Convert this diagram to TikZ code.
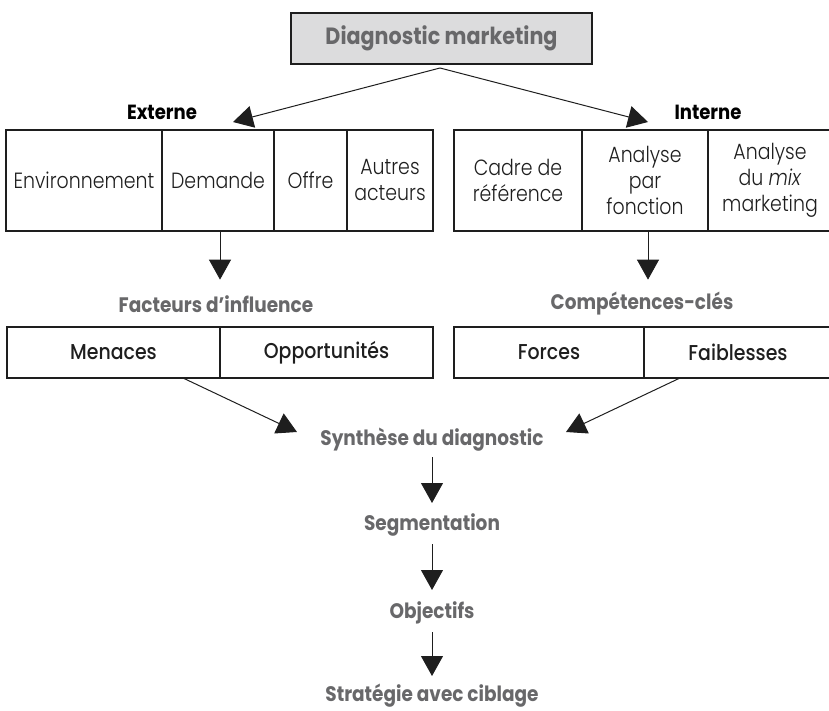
\documentclass[tikz,border=0pt]{standalone}
\usepackage{fontspec}
\setmainfont{Poppins}[FakeStretch=0.88]
\newfontfamily\lightfont{Poppins Light}[FakeStretch=0.86]
\newfontfamily\medfont{Poppins Medium}[FakeStretch=0.88]
\usetikzlibrary{arrows.meta}
\definecolor{labelgray}{RGB}{104,104,106}
\definecolor{boxgray}{RGB}{220,220,221}
\definecolor{ink}{RGB}{30,30,30}
\begin{document}
\begin{tikzpicture}[x=1pt,y=-1pt,
  cell/.style={draw=ink, line width=1.3pt, inner sep=0pt, align=center,
    font=\lightfont\fontsize{22}{26}\selectfont, text=ink},
  upper/.style={cell, minimum height=101pt},
  lower/.style={cell, minimum height=51pt, font=\medfont\fontsize{21.5}{24}\selectfont},
  side/.style={font=\bfseries\fontsize{20.5}{22}\selectfont, text=black, inner sep=0pt},
  stage/.style={font=\bfseries\fontsize{21}{24}\selectfont, text=labelgray, inner sep=0pt},
  arr/.style={draw=ink, line width=1pt, -{Triangle[length=20pt,width=22pt]}}
]
\useasboundingbox (0,0) rectangle (829,711);

% title box
\node[draw=ink, line width=1.3pt, fill=boxgray, minimum width=301pt, minimum height=51pt,
  font=\bfseries\fontsize{23.5}{28}\selectfont, text=labelgray] (top) at (441.5,38.5) {Diagnostic marketing};

% side headings
\node[side] (ext) at (162,112) {Externe};
\node[side] (int) at (708,112) {Interne};

% external analysis cells
\node[upper, minimum width=156pt] (env) at (84,180.5) {Environnement};
\node[upper, minimum width=112pt] (dem) at (218,180.5) {Demande};
\node[upper, minimum width=73pt] (off) at (310.5,180.5) {Offre};
\node[upper, minimum width=86pt] (aut) at (390,180.5) {Autres\\acteurs};

% internal analysis cells (right border runs off the page edge)
\node[upper, minimum width=128pt] (cad) at (518,180.5) {Cadre de\\référence};
\node[upper, minimum width=126pt] (apf) at (645,180.5) {Analyse\\par\\fonction};
\node[upper, minimum width=124pt] (mix) at (770,180.5) {Analyse\\du \textit{mix}\\marketing};

% intermediate headings
\node[stage] (fac) at (216,304) {Facteurs d’influence};
\node[stage] (com) at (642,304) {Compétences-clés};

% SWOT cells
\node[lower, minimum width=213pt] (men) at (113.5,352.5) {Menaces};
\node[lower, minimum width=213pt] (opp) at (326.5,352.5) {Opportunités};
\node[lower, minimum width=190pt] (for) at (549,352.5) {Forces};
\node[lower, minimum width=188pt] (fai) at (738,352.5) {Faiblesses};

% sequence of stages
\node[stage] (syn) at (432,440) {Synthèse du diagnostic};
\node[stage] (seg) at (432,525) {Segmentation};
\node[stage] (obj) at (432,613) {Objectifs};
\node[stage] (str) at (432,696) {Stratégie avec ciblage};

% connector ends
\coordinate (apex) at (440,68);
\coordinate (tipL) at (233,122);
\coordinate (tipR) at (648,122);
\coordinate (fromL) at (183,378);
\coordinate (fromR) at (680,378);
\coordinate (tipSL) at (297,432);
\coordinate (tipSR) at (566,432);

\draw[arr] (apex) -- (tipL);
\draw[arr] (apex) -- (tipR);
\draw[arr] ([xshift=2pt]dem.south) -- ++(0,48);
\draw[arr] ([xshift=3pt]apf.south) -- ++(0,48);
\draw[arr] (fromL) -- (tipSL);
\draw[arr] (fromR) -- (tipSR);
\draw[arr] ([yshift=-17pt]syn.center) -- ([yshift=22pt]seg.center);
\draw[arr] ([yshift=-19pt]seg.center) -- ([yshift=23pt]obj.center);
\draw[arr] ([yshift=-19pt]obj.center) -- ([yshift=20pt]str.center);
\end{tikzpicture}
\end{document}
